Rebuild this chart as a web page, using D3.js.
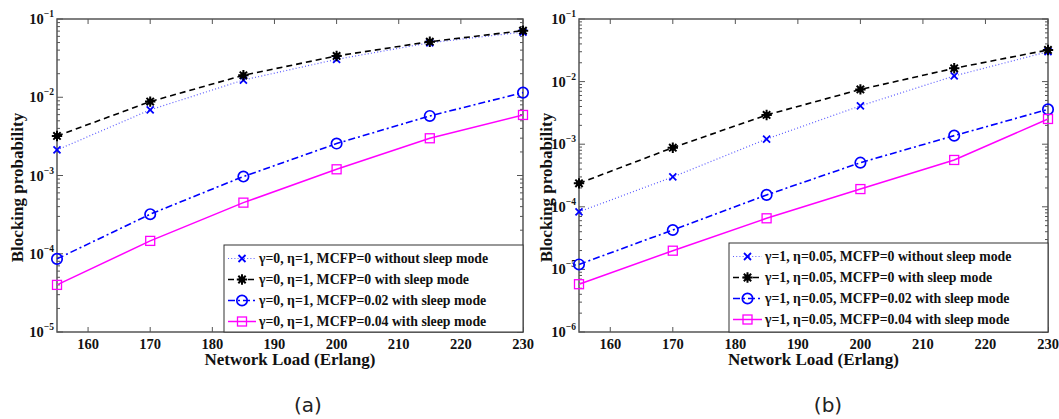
<!DOCTYPE html>
<html>
<head>
<meta charset="utf-8">
<script src="https://cdn.jsdelivr.net/npm/d3@7"></script>
<style>
  body { margin: 0; background: #fff; }
  svg { display: block; }
  .serif { font-family: "Liberation Serif", "Times New Roman", serif; font-weight: bold; }
</style>
</head>
<body>
<script>

// network load values on the x axis
var loads = [155, 170, 185, 200, 215, 230];
var xTicks = [160, 170, 180, 190, 200, 210, 220, 230];

// (a) gamma=0, eta=1
var aNoSleep   = [2.12e-3, 6.9e-3, 1.66e-2, 3.05e-2, 4.97e-2, 6.8e-2];
var aSleep     = [3.2e-3, 8.8e-3, 1.91e-2, 3.37e-2, 5.13e-2, 7.1e-2];
var aMcfp002   = [8.6e-5, 3.2e-4, 9.7e-4, 2.56e-3, 5.77e-3, 1.146e-2];
var aMcfp004   = [4.0e-5, 1.46e-4, 4.5e-4, 1.2e-3, 2.99e-3, 5.94e-3];
var aLabels = [
  "γ=0, η=1, MCFP=0 without sleep mode",
  "γ=0, η=1, MCFP=0 with sleep mode",
  "γ=0, η=1, MCFP=0.02 with sleep mode",
  "γ=0, η=1, MCFP=0.04 with sleep mode"
];

// (b) gamma=1, eta=0.05
var bNoSleep   = [8.3e-5, 3.0e-4, 1.21e-3, 4.1e-3, 1.23e-2, 3.0e-2];
var bSleep     = [2.37e-4, 8.8e-4, 2.93e-3, 7.5e-3, 1.63e-2, 3.2e-2];
var bMcfp002   = [1.2e-5, 4.26e-5, 1.55e-4, 5.07e-4, 1.37e-3, 3.6e-3];
var bMcfp004   = [5.8e-6, 1.99e-5, 6.55e-5, 1.92e-4, 5.6e-4, 2.53e-3];
var bLabels = [
  "γ=1, η=0.05, MCFP=0 without sleep mode",
  "γ=1, η=0.05, MCFP=0 with sleep mode",
  "γ=1, η=0.05, MCFP=0.02 with sleep mode",
  "γ=1, η=0.05, MCFP=0.04 with sleep mode"
];

// line/marker styles per series index
var styles = [
  { stroke: "#5c5cff", width: 1.2, dash: "1,2.2", marker: "x", mColor: "#0000ff" },
  { stroke: "#000", width: 1.6, dash: "6,4", marker: "star", mColor: "#000" },
  { stroke: "#0000ff", width: 1.6, dash: "7,3,2,3", marker: "circle", mColor: "#0000ff" },
  { stroke: "#ff00ff", width: 1.5, dash: null, marker: "square", mColor: "#ff00ff" }
];

var svg = d3.select("body").append("svg")
  .attr("width", 1059).attr("height", 419);

function drawMarker(g, type, color, cx, cy) {
  if (type === "x") {
    var s = 3.5;
    g.append("path")
      .attr("d", "M" + (cx - s) + "," + (cy - s) + "L" + (cx + s) + "," + (cy + s) +
                 "M" + (cx - s) + "," + (cy + s) + "L" + (cx + s) + "," + (cy - s))
      .attr("stroke", color).attr("stroke-width", 1.8).attr("fill", "none");
  } else if (type === "star") {
    var r = 5.2, d = "";
    for (var k = 0; k < 4; k++) {
      var a = k * Math.PI / 4;
      d += "M" + (cx - r * Math.cos(a)) + "," + (cy - r * Math.sin(a)) +
           "L" + (cx + r * Math.cos(a)) + "," + (cy + r * Math.sin(a));
    }
    g.append("path").attr("d", d)
      .attr("stroke", color).attr("stroke-width", 2).attr("fill", "none");
    g.append("circle").attr("cx", cx).attr("cy", cy).attr("r", 3).attr("fill", color);
  } else if (type === "circle") {
    g.append("circle").attr("cx", cx).attr("cy", cy).attr("r", 5.2)
      .attr("stroke", color).attr("stroke-width", 1.7).attr("fill", "none");
  } else {
    g.append("rect").attr("x", cx - 4.5).attr("y", cy - 4.5)
      .attr("width", 9).attr("height", 9)
      .attr("stroke", color).attr("stroke-width", 1.3).attr("fill", "none");
  }
}

function drawPanel(p) {
  var x = d3.scaleLinear().domain([155, 230]).range([p.left, p.right]);
  var y = d3.scaleLog().domain([p.yMin, 0.1]).range([p.bottom, p.top]);
  var g = svg.append("g");
  var axisColor = "#555";

  // axis box
  g.append("rect")
    .attr("x", p.left).attr("y", p.top)
    .attr("width", p.right - p.left).attr("height", p.bottom - p.top)
    .attr("fill", "none").attr("stroke", axisColor).attr("stroke-width", 1.5);

  // x ticks, inward on bottom and top
  xTicks.forEach(function (t) {
    var xx = x(t);
    g.append("line").attr("x1", xx).attr("x2", xx).attr("y1", p.bottom).attr("y2", p.bottom - 5)
      .attr("stroke", axisColor);
    g.append("line").attr("x1", xx).attr("x2", xx).attr("y1", p.top).attr("y2", p.top + 5)
      .attr("stroke", axisColor);
    g.append("text").attr("class", "serif")
      .attr("x", xx).attr("y", p.bottom + 17)
      .attr("text-anchor", "middle").attr("font-size", 14.5).attr("fill", "#111")
      .text(t);
  });

  // log y ticks: majors with labels, minors 2..9
  y.ticks().forEach(function (t) {
    var e = Math.round(Math.log10(t));
    var major = Math.abs(t - Math.pow(10, e)) < 1e-12;
    var len = major ? 6 : 3;
    var yy = y(t);
    g.append("line").attr("x1", p.left).attr("x2", p.left + len).attr("y1", yy).attr("y2", yy)
      .attr("stroke", axisColor);
    g.append("line").attr("x1", p.right).attr("x2", p.right - len).attr("y1", yy).attr("y2", yy)
      .attr("stroke", axisColor);
    if (major) {
      var lab = g.append("text").attr("class", "serif")
        .attr("x", p.left - 3).attr("y", yy + 5)
        .attr("text-anchor", "end").attr("font-size", 14.5).attr("fill", "#111");
      lab.append("tspan").text("10");
      lab.append("tspan").attr("dy", -7).attr("font-size", 9.5).text("\u2212" + (-e));
    }
  });

  // axis titles
  g.append("text").attr("class", "serif")
    .attr("transform", "translate(" + p.yLabelX + "," + ((p.top + p.bottom) / 2 + 12) + ") rotate(-90)")
    .attr("text-anchor", "middle").attr("font-size", 17).attr("fill", "#111")
    .text("Blocking probability");
  g.append("text").attr("class", "serif")
    .attr("x", (p.left + p.right) / 2).attr("y", p.bottom + 33)
    .attr("text-anchor", "middle").attr("font-size", 17).attr("fill", "#111")
    .text("Network Load (Erlang)");

  // caption
  g.append("text")
    .attr("x", p.captionX).attr("y", 412)
    .attr("text-anchor", "middle").attr("font-size", 20)
    .attr("font-family", "'DejaVu Sans', sans-serif").attr("fill", "#222")
    .text(p.caption);

  // series
  var line = d3.line().x(function (d, i) { return x(loads[i]); }).y(function (d) { return y(d); });
  p.series.forEach(function (vals, si) {
    var st = styles[si];
    g.append("path").datum(vals)
      .attr("d", line).attr("fill", "none")
      .attr("stroke", st.stroke).attr("stroke-width", st.width)
      .attr("stroke-dasharray", st.dash);
    vals.forEach(function (v, i) {
      drawMarker(g, st.marker, st.mColor, x(loads[i]), y(v));
    });
  });

  // legend box
  var lg = g.append("g");
  lg.append("rect")
    .attr("x", p.legend.x).attr("y", p.legend.y)
    .attr("width", p.right - p.legend.x).attr("height", p.bottom - p.legend.y)
    .attr("fill", "#fff").attr("stroke", "#333").attr("stroke-width", 1);
  p.labels.forEach(function (txt, si) {
    var st = styles[si];
    var ry = p.legend.y + 13.5 + si * 21;
    var x0 = p.legend.x + 4, x1 = x0 + p.legend.sample;
    lg.append("line").attr("x1", x0).attr("x2", x1).attr("y1", ry).attr("y2", ry)
      .attr("stroke", st.stroke).attr("stroke-width", st.width)
      .attr("stroke-dasharray", st.dash);
    drawMarker(lg, st.marker, st.mColor, (x0 + x1) / 2, ry);
    lg.append("text").attr("class", "serif")
      .attr("x", x1 + 3).attr("y", ry + 4.8)
      .attr("font-size", 13.8).attr("fill", "#111")
      .text(txt);
  });
}

drawPanel({
  left: 57, right: 523, top: 19, bottom: 332, yMin: 1e-5,
  yLabelX: 23, captionX: 308, caption: "(a)",
  legend: { x: 224, y: 245, sample: 28 },
  series: [aNoSleep, aSleep, aMcfp002, aMcfp004], labels: aLabels
});

drawPanel({
  left: 579, right: 1048, top: 19, bottom: 332, yMin: 1e-6,
  yLabelX: 552, captionX: 828, caption: "(b)",
  legend: { x: 729, y: 243, sample: 29 },
  series: [bNoSleep, bSleep, bMcfp002, bMcfp004], labels: bLabels
});

</script>
</body>
</html>
